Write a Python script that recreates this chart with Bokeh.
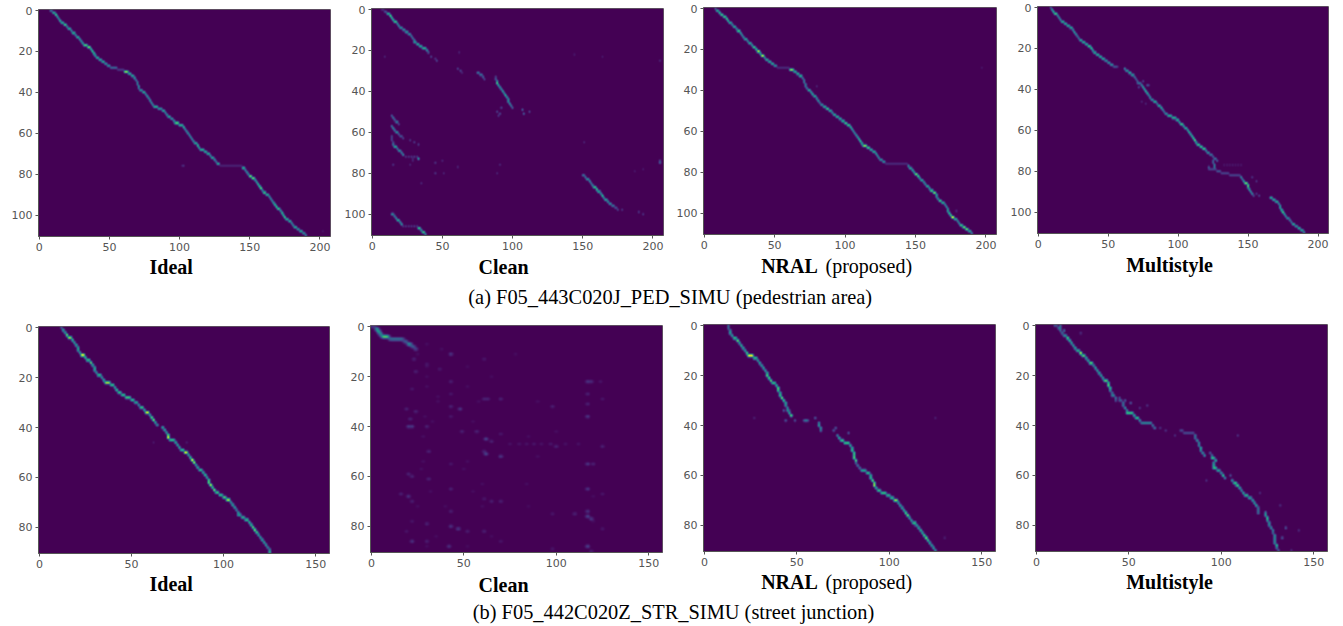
import numpy as np
from bokeh.plotting import figure
from bokeh.models import LinearColorMapper, Range1d, FixedTicker
from bokeh.core.properties import value
from bokeh.layouts import column, row
from bokeh.palettes import Viridis256
from bokeh.embed import file_html
from bokeh.resources import INLINE

SHAPE_A = (111, 208)
SHAPE_B = (91, 158)
XTICKS_A = [0, 50, 100, 150, 200]
YTICKS_A = [0, 20, 40, 60, 80, 100]
XTICKS_B = [0, 50, 100, 150]
YTICKS_B = [0, 20, 40, 60, 80]
CAPTION_A = "(a) F05_443C020J_PED_SIMU (pedestrian area)"
CAPTION_B = "(b) F05_442C020Z_STR_SIMU (street junction)"

# ---- (a) Ideal
A_IDEAL_COLS = [8,10,12,13,14,15,16,18,20,21, 23,24,26,27,29,30,31,32,35,37, 38,39,40,41,43,45,47,49,51,56,
 61,64,66,68,69,70,70,71,71,72, 74,76,77,78,79,80,81,82,85,88, 90,91,92,94,96,97,100,103,104,105,
 106,107,108,109,110,111,113,114,115,118, 120,122,123,125,126,127,129,145,147,148, 149,150,152,154,155,156,157,158,159,160,
 162,164,165,166,167,168,169,170,172,173, 174,175,176,178,180,181,182,184,186,188,190]
A_IDEAL_VALS = [3,5,8,6,5,7,5,6,5,5, 5,5,5,5,6,5,6,6,7,7, 8,7,6,5,5,5,4,4,2.5,1.2,
 7,5,5,5,4,4,4,5,4,4, 5,5,5,5,5,5,5,5,4,5, 5,5,5,4,5,6,5,7,5,5,
 5,5,5,5,5,5,7,6,5,5, 5,5,5,5,4,5,0.7,5,5,5, 5,7,7,6,6,7,8,9,5,6,
 5,5,5,5,6,7,8,6,5,7, 7,8,5,5,5,5,5,4,5,4,5]
A_IDEAL_SPECK_ROW = [76, 76, 108]
A_IDEAL_SPECK_COL = [102, 103, 202]
A_IDEAL_SPECK_VAL = [1, 1, 0.6]

# ---- (a) Clean
A_CLEAN_T1_COLS = [7,9,11,13,14,15,16,18,19,20,22,24,26,28,29,30,30,32,34,36,39,40]
A_CLEAN_T1_VALS = [1,2,5,9,7,7,6,5,5,4,4,4,4,4,4,4,4,5,5,5,5,3]
A_CLEAN_T2_COLS = [75,77,79,80]
A_CLEAN_T2_VALS = [3,3,3,2]
A_CLEAN_T3_COLS = [88,88,89,89,90,91,92,93,94,95,96,97,97,98,99,100]
A_CLEAN_T3_VALS = [2,3,5,8,6,5,5,6,5,7,5,5,5,5,4,3]
A_CLEAN_T4_COLS = [14,15,16,17,19]
A_CLEAN_T4_VALS = [3,4,3,3,2]
A_CLEAN_T5_COLS = [14,15,16,17,19,20,22]
A_CLEAN_T5_VALS = [4,5,4,4,3,2,2]
A_CLEAN_T6_COLS = [14,14,14,15,15,16,18,19,21,22]
A_CLEAN_T6_VALS = [2,2,2,2,4,5,4,4,4,5]
A_CLEAN_T7_COLS = [150,152,153,155,156,157,158,160,161,163,164,165,166,168,169,171,173,175]
A_CLEAN_T7_VALS = [3,4,4,5,4,5,6,8,5,5,8,5,5,5,4,3,2,2]
A_CLEAN_T8_COLS = [14,16,17,18,20,21]
A_CLEAN_T8_VALS = [4,4,5,5,5,5]
A_CLEAN_T9_COLS = [33,35,36,38]
A_CLEAN_T9_VALS = [6,5,6,5]
A_CLEAN_SPECK_ROW = [23,25,24,29,30,31,50,48,51,49,51,50,52,72,72,72,72,72,73,73,76,85,75,80,80,77,76,74,74,80,76,65,75,74,25,23,21,22,23,79,78,98,99,100,64,65,66,106,106,106,106,106,106]
A_CLEAN_SPECK_COL = [42,46,45,61,63,64,89,92,91,107,108,112,90,24,26,28,30,32,33,29,15,35,45,45,51,61,27,29,50,89,91,151,205,205,205,9,62,144,164,187,193,178,190,193,27,30,33,22,24,26,28,30,32]
A_CLEAN_SPECK_VAL = [2,2,1.5,2,2,1,2,2,2,3,3,2,1.5,1.5,1.5,1.5,1.5,1.5,6,1,1.5,1,1.5,1.5,1,1,1,1,1,1,1,1,3,2,1,1,1,.7,.7,.7,.7,1.5,1.5,1.5,1.5,1.5,1.5,1.5,1.5,1.5,1.5,1.5,1.5]

# ---- (a) NRAL
A_NRAL_COLS = [8,9,11,12,14,16,17,18,20,21, 23,24,26,27,28,29,31,32,34,35, 37,38,40,41,43,44,46,48,50,52,
 61,64,66,68,70,71,71,72,72,73, 74,76,77,78,80,81,82,83,85,87, 89,91,92,94,96,98,100,102,104,105,
 106,107,108,109,110,111,112,113,116,118, 120,122,123,124,125,127,129,145,146,148, 149,150,152,153,154,156,157,158,160,161,
 163,165,165,166,167,169,171,172,173,173, 174,175,176,178,180,181,182,184,186,188,190]
A_NRAL_VALS = [3,5,7,6,6,8,7,5,5,5, 5,6,6,5,5,5,5,5,6,6, 7,8,7,8,5,5,5,5,4,0.9,
 7,5,5,5,4,4,4,4,4,4, 5,6,6,5,5,5,4,4,5,6, 5,5,5,5,5,5,6,6,7,6,
 5,5,5,6,7,8,6,7,6,5, 5,6,5,5,4,4,0.9,5,5,6, 6,7,8,6,5,5,5,5,6,6,
 7,6,5,5,6,5,5,5,5,6, 7,8,9,5,5,5,6,7,7,5,5]
A_NRAL_SPECK_ROW = [38, 99, 29]
A_NRAL_SPECK_COL = [80, 179, 197]
A_NRAL_SPECK_VAL = [1, 1.2, 0.6]

# ---- (a) Multistyle
A_MULTI_T1_COLS = [9,10,11,12,14,15,16,17,19,21, 23,25,26,27,28,29,30,32,34,36, 38,39,40,42,44,46,48,50,52,54]
A_MULTI_T1_VALS = [3,6,7,6,5,5,5,5,5,5, 5,5,6,5,4,4,5,5,5,6, 8,6,5,5,5,5,4,4,4,2]
A_MULTI_T2_COLS = [62,63,65,67,69,70,71,72,74,75, 76,77,78,79,80,81,83,85,86,88, 89,90,91,93,96,99,101,102,104,105,
 107,108,109,110,111,112,113,114,116,118, 120,121,123,125,126,128]
A_MULTI_T2_VALS = [5,4,5,4,4,3,3,3,5,6, 6,7,6,5,5,4,5,4,5,6, 5,4,4,5,5,5,6,6,6,5,
 6,7,6,7,8,9,6,6,6,6, 5,4,3,3,3,3]
A_MULTI_T3_COLS = [125,125,126,126]
A_MULTI_T3_VALS = [3,3,4,4]
A_MULTI_T4_COLS = [122,128,131,137,145,146,147,148,150,150,151,152,153]
A_MULTI_T4_VALS = [1.5,2,1.5,1.5,5,4,6,7,8,7,6,5,5]
A_MULTI_T5_COLS = [166,168,170,172,173,173,174,175,176,177,178,180,181,182,184,186,188,190]
A_MULTI_T5_VALS = [5,5,5,5,5,6,7,8,6,5,4,4,4,5,4,5,5,5]
A_MULTI_SPECK_ROW = [29,29,29,36,38,38,39,37,46,47,77,77,77,77,77,77,77,92,83,85,92,78,91]
A_MULTI_SPECK_COL = [55,56,57,75,78,79,72,71,74,77,133,135,137,139,141,143,145,158,153,156,154,122,156]
A_MULTI_SPECK_VAL = [2,2,1,2,2,1.5,2,2,1,1,.6,.6,.6,.6,.6,.6,.6,2,1.5,1.5,2,3,1.5]

# ---- (b) Ideal
B_IDEAL_T1_COLS = [12,13,14,15,16,18,19,20,21,21, 22,23,25,26,28,29,30,30,31,32, 34,35,36,39,41,42,43,45,47,50, 52,54,55,57,58,60,61,62,63,64]
B_IDEAL_T1_VALS = [3,5,5,8,7,6,5,5,5,5, 5,8,7,5,8,5,5,5,5,5, 5,5,7,5,5,6,5,5,5,5, 4,4,5,5,7,5,7,8,5,4]
B_IDEAL_T2_COLS = [67,68,69,70,70,71,74,75,76,77, 79,81,82,83,84,85,86,87,89,90, 91,92,92,93,94,95,96,98,100,102,
 104,105,106,107,108,108,110,112,114,115, 116,117,118,119,120,121,122,123,124,125,125]
B_IDEAL_T2_VALS = [5,5,5,7,9,5,5,5,5,5, 7,5,6,10,8,5,5,5,5,6, 5,6,7,9,6,8,5,5,6,7, 5,5,5,4,4,4,5,5,6,6, 8,8,7,5,5,5,5,5,4,4,6]
B_IDEAL_SPECK_ROW = [46, 46]
B_IDEAL_SPECK_COL = [62, 80]
B_IDEAL_SPECK_VAL = [0.5, 0.5]

# ---- (b) Clean
B_CLEAN_COLS = [0,3,4,5,6,10,18,20,22,24]
B_CLEAN_VALS = [1.5,9,9,7,7,3,3,5,3,3]
B_CLEAN_SPECK_ROW = [11,13,18,15,17,13,22,22,22,22,25,27,27,29,29,29,29,33,34,32,33,32,31,36,36,37,40,40,40,42,42,45,46,43,48,47,47,48,51,50,52,50,55,55,55,59,60,61,65,65,67,67,68,70,69,70,70,74,74,76,77,75,75,79,80,81,82,78,82,82,81,86,86,88,88,90,89,86,
 7,9,24,24,28,36,47,47,47,47,47,47,54,54,66,66,72,72,72,72,84,84,20,20,16,16,30,30,38,38,57,57,63,63,11,11,88,88,44,44,30,42,52,68,78]
B_CLEAN_SPECK_COL = [43,23,24,30,37,61,43,117,119,124,22,43,117,61,63,70,125,19,24,43,48,98,117,117,43,21,20,22,30,49,57,62,65,70,100,97,88,125,62,61,70,31,117,120,43,20,22,31,43,117,125,16,20,22,61,70,65,43,117,117,119,110,98,30,43,47,52,22,19,61,125,22,30,42,117,119,98,70,
 30,38,30,52,36,29,75,80,84,92,105,112,28,52,32,55,25,40,60,85,35,65,30,65,30,52,36,58,33,55,27,50,60,84,25,78,30,52,28,85,90,100,90,120,120]
B_CLEAN_SPECK_VAL = [2.5,1.5,1.5,1,1,1,1.5,2.5,2,1,1,1,1.5,1.5,1.5,1.5,1,1.5,1.5,1.5,2.5,1.5,1.5,2.5,1,1.5,2.5,2.5,1.5,1.5,1.5,3.5,1.5,1,1.5,1,1,1.5,3.5,1.5,2.5,1.5,2.5,1.5,1,1.5,1.5,1.5,1.5,2.5,1,1.5,2.5,1.5,1,1.5,1.5,1.5,2.5,3.5,2.5,1.5,1,1.5,2.5,2.5,1.5,1,1,1.5,1,2.5,1.5,2.5,3.5,1.5,1,1,
 .6,.6,.6,.6,.6,.6,.8,.8,.8,.8,.8,.8,.6,.6,.6,.6,.6,.6,.6,.6,.6,.6,.6,.6,.6,.6,.6,.6,.6,.6,.6,.6,.6,.6,.6,.6,.6,.6,.6,.6,.6,.6,.6,.6,.6]

# ---- (b) NRAL
B_NRAL_T1_COLS = [13,13,14,14,15,16,18,19,20,21, 22,23,24,27,29,30,31,32,33,34, 34,35,36,37,39,40,40,41,41,42, 43,44,44,45,45,46,47]
B_NRAL_T1_VALS = [3,3,4,5,5,5,8,5,6,5, 5,7,9,5,5,5,5,5,5,5, 7,7,8,5,6,7,6,5,6,8, 6,5,4,4,4,5,7]
B_NRAL_T2_COLS = [62,62,63,63]
B_NRAL_T2_VALS = [4,5,4,3]
B_NRAL_T3_COLS = [72,73,74,76,79,80,80,81,81,81, 82,82,83,84,85,88,90,90,91,92, 92,93,94,96,99,101,103,105,106,107,
 108,109,110,111,112,113,115,116,117,118, 119,120,121,122,123,124,125]
B_NRAL_T3_VALS = [4,5,5,5,5,5,6,6,6,7, 7,3,3,3,4,5,5,6,7,7, 8,5,5,5,5,5,7,5,5,5, 6,7,8,5,5,5,5,5,6,6, 7,8,7,5,5,5,5]
B_NRAL_SPECK_ROW = [34,34,38,38,38,37,42,43,41,37,37,85,79,80,38,38]
B_NRAL_SPECK_COL = [46,43,44,49,55,60,70,78,71,27,125,130,113,114,56,54]
B_NRAL_SPECK_VAL = [2,2,2,2,3,2,2,2,2,.7,.7,.7,2,2,2,2]

# ---- (b) Multistyle
B_MULTI_T1_COLS = [10,12,13,14,15,17,18,19,20,21, 22,24,25,27,28,29,31,32,33,34, 35,36,37,39,39,40,40,41,41,43]
B_MULTI_T1_VALS = [2,3,3,3,4,7,6,5,5,5, 5,9,6,5,5,6,4,5,5,5, 5,5,6,7,8,6,4,3,3,3]
B_MULTI_T2_COLS = [45,47,47,48,49,49,53,54,56,57,63,64]
B_MULTI_T2_VALS = [2,3,3,4,4,5,5,5,4,3,3,3]
B_MULTI_T3_COLS = [78,80,86,86,87,88,88,89,89,90,91]
B_MULTI_T3_VALS = [1.5,1.5,3,3,4,4,4,5,4,4,4]
B_MULTI_T4_COLS = [95,95,97,96,96,96,98,100,101,102]
B_MULTI_T4_VALS = [3,5,5,4,5,5,4,4,6,4]
B_MULTI_T5_COLS = [106,107,109,110,111,112,113,115,117,118,119,120,120,120]
B_MULTI_T5_VALS = [4,5,6,5,4,5,5,4,5,5,5,3,3,3]
B_MULTI_T6_COLS = [124,124,125,125,126,126,127,128,128,129,129,129,129,130,130,131]
B_MULTI_T6_VALS = [4,5,6,5,4,4,4,4,3,4,4,4,4,6,3,3]
B_MULTI_SPECK_ROW = [30,31,33,32,30,44,42,41,3,1,1,58,60,67,72,44,51,81,85,90,82,68,62,64,0,2,29]
B_MULTI_SPECK_COL = [48,51,56,60,43,75,70,67,24,12,13,98,105,121,132,109,94,135,133,138,142,114,92,108,13,15,45]
B_MULTI_SPECK_VAL = [2,2,1,1,2,1,1,1,1,3,3,1,2,1,1,1,2,2,2,1,1,2,1,3,3,3,2]

mapper = LinearColorMapper(palette=Viridis256, low=0, high=10)
SUB = 4        # sub-cells per matrix cell, so that the soft edge of the source image can be drawn
GAIN = 1.45


def gaussian(sigma):
    xs = np.arange(-int(3 * sigma) - 1, int(3 * sigma) + 2)
    k = np.exp(-0.5 * (xs / sigma) ** 2)
    return k / k.sum()


def matrix(shape, traces, specks=([], [], []), sx=1.9, sy=1.3):
    m = np.zeros(shape)
    for start, cols, vals in traces:
        for i, (c, v) in enumerate(zip(cols, vals)):
            end = cols[i + 1] if i + 1 < len(cols) and cols[i + 1] > c else c + 1
            m[start + i, c:end] = np.maximum(m[start + i, c:end], v)
    for r, c, v in zip(*specks):
        m[r, c] = max(m[r, c], v)
    up = np.kron(m, np.ones((SUB, SUB)))
    kx, ky = gaussian(sx), gaussian(sy)
    up = np.apply_along_axis(lambda a: np.convolve(a, kx, mode="same"), 1, up)
    up = np.apply_along_axis(lambda a: np.convolve(a, ky, mode="same"), 0, up)
    return np.clip(up * GAIN, 0, 10)


def panel(m, xticks, yticks, left, right, frame_w, bottom, top_margin):
    nrows, ncols = m.shape[0] // SUB, m.shape[1] // SUB
    p = figure(frame_width=frame_w, frame_height=227, output_backend="svg", toolbar_location=None,
               x_range=Range1d(-0.5, ncols - 0.5), y_range=Range1d(nrows - 0.5, -0.5),
               min_border_left=left, min_border_top=12, min_border_right=right, min_border_bottom=bottom,
               border_fill_color="white", margin=(top_margin, 0, 0, 0))
    p.image(image=[m], x=-0.5, y=-0.5, dw=ncols, dh=nrows, color_mapper=mapper)
    p.grid.visible = False
    p.xaxis.ticker = FixedTicker(ticks=xticks)
    p.yaxis.ticker = FixedTicker(ticks=yticks)
    for ax in (p.xaxis[0], p.yaxis[0]):
        ax.major_tick_in = 0
        ax.major_tick_out = 3
        ax.minor_tick_line_color = None
        ax.axis_line_color = "#555555"
        ax.major_tick_line_color = "#555555"
        ax.major_label_text_font = "DejaVu Sans"
        ax.major_label_text_font_size = "11px"
        ax.major_label_text_color = "#555555"
        ax.major_label_standoff = 3
    p.outline_line_color = "#666666"
    return p


def strip(top, height, bold, plain, sub):
    p = figure(width=1343, height=height, output_backend="svg", toolbar_location=None,
               x_range=Range1d(0, 1343), y_range=Range1d(top + height, top), min_border=0, outline_line_color=None,
               background_fill_alpha=0, border_fill_alpha=0, margin=(-8, 0, 0, 0))
    p.axis.visible = False
    p.grid.visible = False
    p.text(x=bold[0], y=bold[1], text=bold[2], text_align="center", text_baseline="middle", text_color="black",
           text_font=value("Liberation Serif"), text_font_style="bold", text_font_size="20px")
    p.text(x=plain[0], y=plain[1], text=plain[2], text_align="left", text_baseline="middle", text_color="black",
           text_font=value("Liberation Serif"), text_font_size="20px")
    p.text(x=sub[0], y=sub[1], text=sub[2], text_align="center", text_baseline="middle", text_color="black",
           text_font=value("Liberation Serif"), text_font_size="20.4px")
    return p


T = lambda *a: a
BS = dict(sx=1.6, sy=1.1)

a1 = panel(matrix(SHAPE_A, [T(0, A_IDEAL_COLS, A_IDEAL_VALS)], (A_IDEAL_SPECK_ROW, A_IDEAL_SPECK_COL, A_IDEAL_SPECK_VAL)),
           XTICKS_A, YTICKS_A, 38, 5, 292, 20, 3)
a2 = panel(matrix(SHAPE_A, [T(0, A_CLEAN_T1_COLS, A_CLEAN_T1_VALS), T(31, A_CLEAN_T2_COLS, A_CLEAN_T2_VALS),
                            T(33, A_CLEAN_T3_COLS, A_CLEAN_T3_VALS), T(52, A_CLEAN_T4_COLS, A_CLEAN_T4_VALS),
                            T(57, A_CLEAN_T5_COLS, A_CLEAN_T5_VALS), T(62, A_CLEAN_T6_COLS, A_CLEAN_T6_VALS),
                            T(81, A_CLEAN_T7_COLS, A_CLEAN_T7_VALS), T(100, A_CLEAN_T8_COLS, A_CLEAN_T8_VALS),
                            T(107, A_CLEAN_T9_COLS, A_CLEAN_T9_VALS)],
                  (A_CLEAN_SPECK_ROW, A_CLEAN_SPECK_COL, A_CLEAN_SPECK_VAL)),
           XTICKS_A, YTICKS_A, 36, 5, 292, 21, 2)
a3 = panel(matrix(SHAPE_A, [T(0, A_NRAL_COLS, A_NRAL_VALS)], (A_NRAL_SPECK_ROW, A_NRAL_SPECK_COL, A_NRAL_SPECK_VAL)),
           XTICKS_A, YTICKS_A, 35, 6, 293, 22, 1)
a4 = panel(matrix(SHAPE_A, [T(0, A_MULTI_T1_COLS, A_MULTI_T1_VALS), T(30, A_MULTI_T2_COLS, A_MULTI_T2_VALS),
                            T(75, A_MULTI_T3_COLS, A_MULTI_T3_VALS), T(79, A_MULTI_T4_COLS, A_MULTI_T4_VALS),
                            T(93, A_MULTI_T5_COLS, A_MULTI_T5_VALS)],
                  (A_MULTI_SPECK_ROW, A_MULTI_SPECK_COL, A_MULTI_SPECK_VAL)),
           XTICKS_A, YTICKS_A, 35, 15, 291, 23, 0)

b1 = panel(matrix(SHAPE_B, [T(0, B_IDEAL_T1_COLS, B_IDEAL_T1_VALS), T(40, B_IDEAL_T2_COLS, B_IDEAL_T2_VALS)],
                  (B_IDEAL_SPECK_ROW, B_IDEAL_SPECK_COL, B_IDEAL_SPECK_VAL), **BS),
           XTICKS_B, YTICKS_B, 38, 6, 291, 21, 2)
b2 = panel(matrix(SHAPE_B, [T(0, B_CLEAN_COLS, B_CLEAN_VALS)], (B_CLEAN_SPECK_ROW, B_CLEAN_SPECK_COL, B_CLEAN_SPECK_VAL), sx=3.2, sy=1.6),
           XTICKS_B, YTICKS_B, 35, 6, 292, 22, 1)
b3 = panel(matrix(SHAPE_B, [T(0, B_NRAL_T1_COLS, B_NRAL_T1_VALS), T(39, B_NRAL_T2_COLS, B_NRAL_T2_VALS),
                            T(44, B_NRAL_T3_COLS, B_NRAL_T3_VALS)],
                  (B_NRAL_SPECK_ROW, B_NRAL_SPECK_COL, B_NRAL_SPECK_VAL), **BS),
           XTICKS_B, YTICKS_B, 35, 7, 292, 23, 0)
b4 = panel(matrix(SHAPE_B, [T(0, B_MULTI_T1_COLS, B_MULTI_T1_VALS), T(30, B_MULTI_T2_COLS, B_MULTI_T2_VALS),
                            T(42, B_MULTI_T3_COLS, B_MULTI_T3_VALS), T(52, B_MULTI_T4_COLS, B_MULTI_T4_VALS),
                            T(62, B_MULTI_T5_COLS, B_MULTI_T5_VALS), T(75, B_MULTI_T6_COLS, B_MULTI_T6_VALS)],
                  (B_MULTI_SPECK_ROW, B_MULTI_SPECK_COL, B_MULTI_SPECK_VAL), **BS),
           XTICKS_B, YTICKS_B, 33, 15, 292, 23, 0)

strip_a = strip(248, 64,
                ([170.7, 503, 789, 1169], [266.7, 266.7, 265, 264], ["Ideal", "Clean", "NRAL", "Multistyle"]),
                ([825], [265], ["(proposed)"]),
                ([669.7], [296], [CAPTION_A]))
strip_b = strip(566, 60,
                ([170.7, 503, 789, 1169], [583, 584, 581.7, 581.7], ["Ideal", "Clean", "NRAL", "Multistyle"]),
                ([825], [581.7], ["(proposed)"]),
                ([673], [611.7], [CAPTION_B]))

page = column(row(a1, a2, a3, a4, spacing=0, margin=(-6, 0, 0, 0)), strip_a,
              row(b1, b2, b3, b4, spacing=0), strip_b, spacing=0)
open("out.html", "w").write(file_html(page, INLINE))
